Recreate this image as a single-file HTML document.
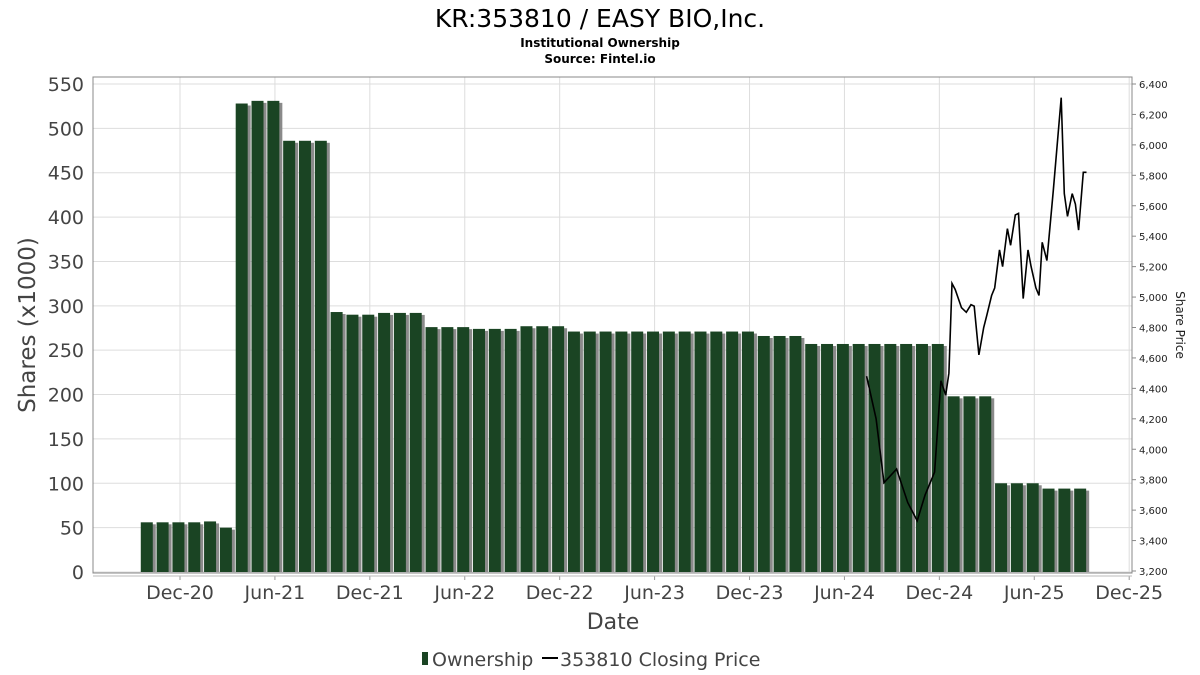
<!DOCTYPE html>
<html><head><meta charset="utf-8">
<style>
body{margin:0;background:#fff;}
svg{display:block;font-family:"DejaVu Sans","Liberation Sans",sans-serif;}
</style></head>
<body>
<svg id="chart" width="1200" height="675" viewBox="0 0 1200 675" xmlns="http://www.w3.org/2000/svg">
<text x="600" y="27" text-anchor="middle" font-size="25" fill="#000">KR:353810 / EASY BIO,Inc.</text>
<text x="600" y="47" text-anchor="middle" font-size="12" font-weight="bold" fill="#000">Institutional Ownership</text>
<text x="600" y="63" text-anchor="middle" font-size="12" font-weight="bold" fill="#000">Source: Fintel.io</text>
<g id="grid"></g>
<g id="bars"></g>
<g id="line"></g>
<rect x="93" y="77" width="1039" height="496" fill="none" stroke="#888" stroke-width="1"/>
<g id="axes"></g>
<text transform="translate(35,325) rotate(-90)" text-anchor="middle" font-size="23" fill="#444">Shares (x1000)</text>
<text transform="translate(1176,325) rotate(90)" text-anchor="middle" font-size="12" fill="#222">Share Price</text>
<text x="613" y="629" text-anchor="middle" font-size="22" fill="#444">Date</text>
<g>
<rect x="422" y="652" width="6" height="13" fill="#1a4423"/>
<text x="432" y="666" font-size="19" fill="#444">Ownership</text>
<line x1="542" y1="658" x2="558" y2="658" stroke="#000" stroke-width="2"/>
<text x="560" y="666" font-size="19" fill="#444">353810 Closing Price</text>
</g>
</svg>
<script>
const ownership = [56,56,56,56,57,50,528,531,531,486,486,486,293,290,290,292,292,292,276,276,276,274,274,274,277,277,277,271,271,271,271,271,271,271,271,271,271,271,271,266,266,266,257,257,257,257,257,257,257,257,257,198,198,198,100,100,100,94,94,94];
const yTicks = [0,50,100,150,200,250,300,350,400,450,500,550];
const priceTicks = [3200,3400,3600,3800,4000,4200,4400,4600,4800,5000,5200,5400,5600,5800,6000,6200,6400];
const xTickLabels = ["Dec-20","Jun-21","Dec-21","Jun-22","Dec-22","Jun-23","Dec-23","Jun-24","Dec-24","Jun-25","Dec-25"];
const priceMonths = [43.4,44.0,44.5,45.3,46.0,46.6,47.1,47.7,48.1,48.4,48.6,48.8,49.0,49.4,49.7,50.0,50.2,50.5,50.8,51.0,51.3,51.5,51.8,52.0,52.3,52.5,52.8,53.0,53.3,53.6,53.8,54.1,54.3,54.5,54.8,55.2,55.7,55.9,56.1,56.4,56.6,56.8,57.1,57.3,57.6,57.8,58.0,58.3];
const prices = [4480,4200,3780,3870,3650,3530,3700,3850,4450,4356,4500,5090,5050,4930,4900,4950,4940,4620,4800,4880,5010,5060,5310,5200,5450,5340,5540,5550,4990,5310,5200,5060,5010,5360,5240,5700,6310,5680,5530,5680,5610,5440,5820,5820];
prices.length = Math.min(prices.length, priceMonths.length);
const NS = "http://www.w3.org/2000/svg";
const X0 = 180, MW = 15.82, BAR_OFFSET = -2.1;
function xS(m){ return X0 + m*MW; }
function yS(v){ return 572 - v*(488/550); }
function pS(p){ return 571 - (p-3200)*(487/3200); }
function mk(tag, attrs, parent){ const e=document.createElementNS(NS,tag); for(const k in attrs) e.setAttribute(k,attrs[k]); parent.appendChild(e); return e; }
const grid=document.getElementById('grid'), axes=document.getElementById('axes'), bars=document.getElementById('bars'), lineG=document.getElementById('line');
yTicks.forEach(v=>{
  const l=mk('line',{x1:93,x2:1132,y1:yS(v),y2:yS(v),stroke:'#ddd','stroke-width':1},grid);
  
  
  const t=mk('text',{x:84,y:yS(v)+7,'text-anchor':'end','font-size':19,fill:'#444'},axes);
  t.textContent=v;
  
  
});
xTickLabels.forEach((lab,i)=>{
  const x=xS(i*6);
  const l=mk('line',{x1:x,x2:x,y1:77,y2:573,stroke:'#ddd','stroke-width':1},grid);
  
  
  mk('line',{x1:x,x2:x,y1:576,y2:580,stroke:'#999'},axes);
  const t=mk('text',{x:x,y:599,'text-anchor':'middle','font-size':19,fill:'#444'},axes);
  t.textContent=lab;
  
  
});
mk('line',{x1:93,x2:1132,y1:576,y2:576,stroke:'#bbb'},axes);
priceTicks.forEach(p=>{
  mk('line',{x1:1132,x2:1136,y1:pS(p),y2:pS(p),stroke:'#888'},axes);
  const t=mk('text',{x:1139,y:pS(p)+4,'font-size':10,fill:'#222'},axes);
  t.textContent=p.toLocaleString('en-US');
  
  
});
// line drawn first so bars cover it
let d='';
priceMonths.forEach((m,i)=>{ if(i<prices.length) d+=(i?'L':'M')+xS(m).toFixed(1)+','+pS(prices[i]).toFixed(1); });
const pl=mk('path',{d:d,fill:'none',stroke:'#000','stroke-width':1.6},lineG);


ownership.forEach((v,i)=>{
  const cx=xS(i+BAR_OFFSET), w=12;
  const s=mk('rect',{x:cx-w/2+3,y:yS(v)+2,width:w,height:572-yS(v)-2,fill:'#8a8a8a'},bars);
  
  
  const b=mk('rect',{x:cx-w/2,y:yS(v),width:w,height:572-yS(v),fill:'#1a4423'},bars);
  
  
});
document.getElementById('chart').insertBefore(lineG.parentNode===null?lineG:lineG, null);
</script>
</body></html>
